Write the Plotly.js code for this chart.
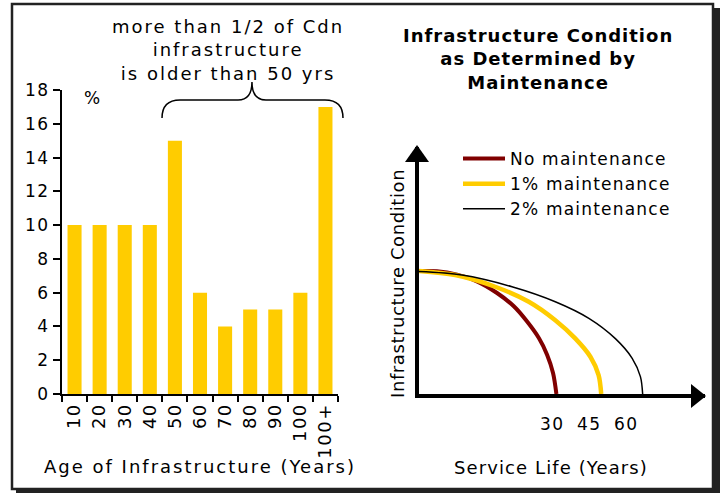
<!DOCTYPE html>
<html>
<head>
<meta charset="utf-8">
<script src="https://cdn.plot.ly/plotly-3.0.1.min.js"></script>
<style>
  html, body { margin: 0; padding: 0; background: #fff; }
  #chart { width: 723px; height: 493px; }
  /* the original uses a wide, loosely spaced Verdana-like face */
  #chart .xtick text, #chart .ytick text, #chart .x2tick text { letter-spacing: 1.5px; }
</style>
</head>
<body>
<div id="chart"></div>
<script>
// left panel: share of infrastructure by age bracket (%)
const ageLabels = ['10', '20', '30', '40', '50', '60', '70', '80', '90', '100', '100+'];
const agePct    = [10, 10, 10, 10, 15, 6, 4, 5, 5, 6, 17];

// right panel: condition curves (service life units, condition units)
const noMaintX   = [0, 4.8, 10.2, 15.5, 20.9, 25.4, 28.9, 32.1, 34.3, 35.9, 36.8];
const noMaintY   = [10, 9.98, 9.70, 9.16, 8.21, 7.13, 5.91, 4.55, 3.20, 1.71, 0];
const oneMaintX  = [0, 9.7, 20.4, 29.4, 36.5, 41.9, 45.9, 48.1, 48.8];
const oneMaintY  = [10, 9.67, 8.72, 7.5, 6.0, 4.5, 3.03, 1.54, 0];
const twoMaintX  = [0, 11.5, 24.9, 36.5, 45.5, 52.6, 57.1, 59.3, 59.9];
const twoMaintY  = [9.95, 9.67, 8.72, 7.5, 6.15, 4.5, 2.9, 1.41, 0];

const lifeTickText = ['30', '45', '60'];
const lifeTickVals = [35.7, 45.6, 55.5];

const W = 723, H = 493;
const fx = px => px / W;
const fy = py => 1 - py / H;
const spaced = (s, px) => '<span style="letter-spacing:' + px + 'px">' + s + '</span>';

const GOLD = '#FFCC00';
const DARKRED = '#800000';

const traces = [
  {
    type: 'bar',
    x: ageLabels,
    y: agePct,
    xaxis: 'x', yaxis: 'y',
    marker: { color: GOLD },
    showlegend: false,
  },
  {
    type: 'scatter', mode: 'lines', name: spaced('No maintenance', 1.2),
    x: noMaintX, y: noMaintY, xaxis: 'x2', yaxis: 'y2',
    line: { color: DARKRED, width: 4, shape: 'spline', smoothing: 0.9 },
  },
  {
    type: 'scatter', mode: 'lines', name: spaced('1% maintenance', 1.2),
    x: oneMaintX, y: oneMaintY, xaxis: 'x2', yaxis: 'y2',
    line: { color: GOLD, width: 4.5, shape: 'spline', smoothing: 0.9 },
  },
  {
    type: 'scatter', mode: 'lines', name: spaced('2% maintenance', 1.2),
    x: twoMaintX, y: twoMaintY, xaxis: 'x2', yaxis: 'y2',
    line: { color: '#000', width: 1.5, shape: 'spline', smoothing: 0.9 },
  },
];

// brace over the 50+ bars, in pixel terms then turned into paper fractions
const bracePts = [
  ['M', 162, 118], ['Q', 162, 100, 180, 100], ['L', 238, 100],
  ['Q', 252, 100, 252, 82], ['Q', 252, 100, 266, 100], ['L', 325, 100],
  ['Q', 343, 100, 343, 118],
];
const bracePath = bracePts.map(p => {
  const nums = [];
  for (let i = 1; i < p.length; i += 2) nums.push(fx(p[i]).toFixed(4) + ',' + fy(p[i + 1]).toFixed(4));
  return p[0] + nums.join(' ');
}).join(' ');

const x2Max = 76.6, y2Max = 20.08;

const layout = {
  width: W,
  height: H,
  margin: { t: 0, r: 0, b: 0, l: 0 },
  paper_bgcolor: '#fff',
  plot_bgcolor: 'rgba(0,0,0,0)',
  font: { family: 'DejaVu Sans, Verdana, sans-serif', size: 17, color: '#000' },
  bargap: 0.44,
  showlegend: true,
  legend: {
    x: fx(458), y: fy(141), xanchor: 'left', yanchor: 'top',
    bgcolor: 'rgba(0,0,0,0)', font: { size: 17 }, itemwidth: 42,
    tracegroupgap: 0,
  },
  xaxis: {
    domain: [fx(62), fx(338)],
    anchor: 'y',
    type: 'category',
    tickson: 'boundaries',
    ticks: 'outside', ticklen: 6, tickwidth: 2, tickcolor: '#000',
    showline: true, linewidth: 2, linecolor: '#000',
    tickangle: -90,
    tickfont: { size: 18 },
    title: { text: spaced('Age of Infrastructure (Years)', 2), font: { size: 18 }, standoff: 9 },
    fixedrange: true,
  },
  yaxis: {
    domain: [fy(394), fy(90)],
    anchor: 'x',
    range: [0, 18], dtick: 2,
    ticks: 'outside', ticklen: 7, tickwidth: 2, tickcolor: '#000',
    showline: true, linewidth: 2, linecolor: '#000',
    showgrid: false, zeroline: false,
    tickfont: { size: 17 },
    fixedrange: true,
  },
  xaxis2: {
    domain: [fx(419), fx(705)],
    anchor: 'y2',
    range: [0, x2Max],
    showline: true, linewidth: 4, linecolor: '#000',
    showgrid: false, zeroline: false,
    ticks: '', tickvals: lifeTickVals, ticktext: lifeTickText,
    ticklabelstandoff: 12,
    tickfont: { size: 17 },
    fixedrange: true,
  },
  yaxis2: {
    domain: [fy(394), fy(147)],
    anchor: 'x2',
    range: [0, y2Max],
    showline: true, linewidth: 4, linecolor: '#000',
    showgrid: false, zeroline: false,
    ticks: '', showticklabels: false,
    fixedrange: true,
  },
  shapes: [
    // frame with drop shadow
    {
      type: 'rect', xref: 'paper', yref: 'paper', layer: 'below',
      x0: fx(16), x1: fx(720), y0: fy(493), y1: fy(8),
      fillcolor: '#222', line: { width: 0 },
    },
    {
      type: 'rect', xref: 'paper', yref: 'paper', layer: 'below',
      x0: fx(12), x1: fx(713), y0: fy(489), y1: fy(4),
      fillcolor: '#fff', line: { color: '#222', width: 2.5 },
    },
    {
      type: 'path', xref: 'paper', yref: 'paper',
      path: bracePath,
      line: { color: '#000', width: 1.5 },
    },
    // arrow heads on the right-hand axes (paper refs so they are not clipped)
    {
      type: 'path', xref: 'paper', yref: 'paper',
      xsizemode: 'pixel', ysizemode: 'pixel', xanchor: fx(417), yanchor: fy(147),
      path: 'M0,2 L-12,-15 L12,-15 Z',
      fillcolor: '#000', line: { width: 0 },
    },
    {
      type: 'path', xref: 'paper', yref: 'paper',
      xsizemode: 'pixel', ysizemode: 'pixel', xanchor: fx(705), yanchor: fy(396),
      path: 'M1,0 L-14,-12 L-14,12 Z',
      fillcolor: '#000', line: { width: 0 },
    },
  ],
  annotations: [
    {
      xref: 'paper', yref: 'paper', x: fx(228), y: fy(50),
      xanchor: 'center', yanchor: 'middle', showarrow: false,
      text: spaced('more than 1/2 of Cdn', 2) + '<br>' + spaced('infrastructure', 2) +
            '<br>' + spaced('is older than 50 yrs', 2),
      font: { size: 18 },
    },
    {
      xref: 'paper', yref: 'paper', x: fx(92), y: fy(98),
      xanchor: 'center', yanchor: 'middle', showarrow: false,
      text: '%', font: { size: 17 },
    },
    {
      xref: 'paper', yref: 'paper', x: fx(538), y: fy(58.5),
      xanchor: 'center', yanchor: 'middle', showarrow: false,
      text: '<b>' + spaced('Infrastructure Condition', 1) + '<br>' + spaced('as Determined by', 1) +
            '<br>' + spaced('Maintenance', 1) + '</b>',
      font: { size: 18 },
    },
    {
      xref: 'paper', yref: 'paper', x: fx(551), y: fy(467),
      xanchor: 'center', yanchor: 'middle', showarrow: false,
      text: spaced('Service Life (Years)', 1.1), font: { size: 18 },
    },
    {
      xref: 'paper', yref: 'paper', x: fx(397), y: fy(284),
      xanchor: 'center', yanchor: 'middle', showarrow: false, textangle: -90,
      text: spaced('Infrastructure Condition', 0.6), font: { size: 18 },
    },
  ],
};

const config = { displayModeBar: false, staticPlot: true };

Plotly.newPlot('chart', traces, layout, config);
</script>
</body>
</html>
